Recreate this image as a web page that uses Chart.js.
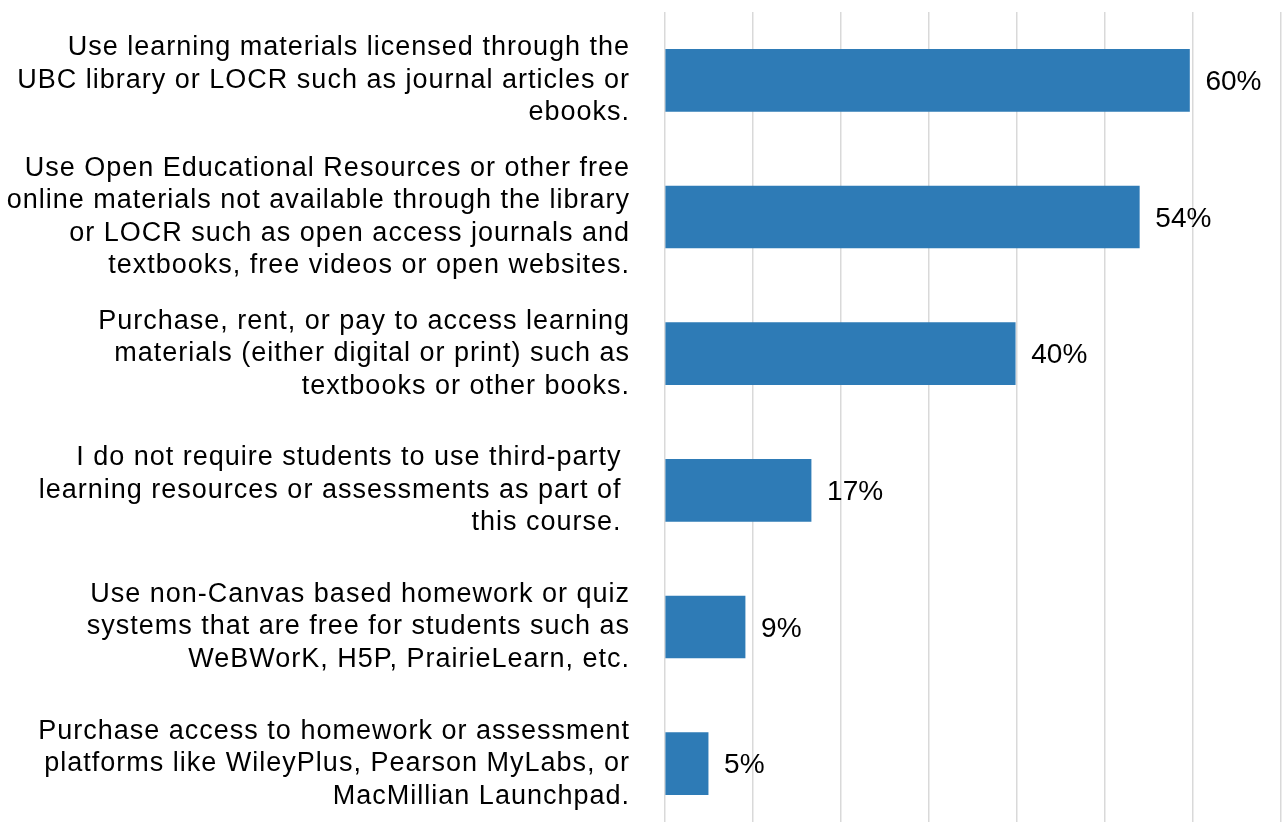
<!DOCTYPE html>
<html>
<head>
<meta charset="utf-8">
<script src="https://cdn.jsdelivr.net/npm/chart.js@4/dist/chart.umd.min.js"></script>
<style>
  html, body { margin: 0; padding: 0; background: #fff; overflow: hidden; }
  #wrap { width: 1284px; height: 832px; position: relative; }
</style>
</head>
<body>
<div id="wrap"><canvas id="chart"></canvas></div>
<script>
// chart data
const categories = [
    ['Use learning materials licensed through the', 'UBC library or LOCR such as journal articles or', 'ebooks.'],
    ['Use Open Educational Resources or other free', 'online materials not available through the library', 'or LOCR such as open access journals and', 'textbooks, free videos or open websites.'],
    ['Purchase, rent, or pay to access learning', 'materials (either digital or print) such as', 'textbooks or other books.'],
    ['I do not require students to use third-party ', 'learning resources or assessments as part of ', 'this course. '],
    ['Use non-Canvas based homework or quiz', 'systems that are free for students such as', 'WeBWorK, H5P, PrairieLearn, etc.'],
    ['Purchase access to homework or assessment', 'platforms like WileyPlus, Pearson MyLabs, or', 'MacMillian Launchpad.']
];
const shares = [59.6, 53.9, 39.8, 16.6, 9.1, 4.9];
const shareLabels = ['60%', '54%', '40%', '17%', '9%', '5%'];

const FONT = '"Liberation Sans", Arial, sans-serif';

// the category text in the original is spaced out a little
const labelSpacing = {
    id: 'labelSpacing',
    beforeDraw(chart) {
        chart.ctx.letterSpacing = '1px';
    }
};

// Draw the percentage next to each bar
const valueLabels = {
    id: 'valueLabels',
    afterDatasetsDraw(chart) {
        const ctx = chart.ctx;
        const meta = chart.getDatasetMeta(0);
        ctx.save();
        ctx.letterSpacing = '0px';
        ctx.font = '28px ' + FONT;
        ctx.fillStyle = '#000';
        ctx.textAlign = 'left';
        ctx.textBaseline = 'middle';
        meta.data.forEach((bar, i) => {
            ctx.fillText(shareLabels[i], bar.x + 16, bar.y + 2);
        });
        ctx.restore();
    }
};

new Chart(document.getElementById('chart'), {
    type: 'bar',
    data: {
        labels: categories,
        datasets: [{
            data: shares,
            backgroundColor: '#2e7bb6',
            borderWidth: 0,
            barThickness: 62
        }]
    },
    options: {
        indexAxis: 'y',
        responsive: true,
        maintainAspectRatio: false,
        animation: false,
        layout: { padding: { top: 12, right: 3, bottom: 0, left: 0 } },
        plugins: {
            legend: { display: false },
            tooltip: { enabled: false }
        },
        scales: {
            x: {
                min: 0,
                max: 70,
                ticks: { display: false, stepSize: 10 },
                grid: { color: '#d9d9d9', lineWidth: 1.5, drawTicks: false },
                border: { display: false },
                afterFit(scale) {
                    scale.height = 0;
                    scale.paddingLeft = 0;
                    scale.paddingRight = 0;
                }
            },
            y: {
                ticks: {
                    color: '#000',
                    padding: 35,
                    font: { family: FONT, size: 27, lineHeight: 1.2 }
                },
                grid: { display: false, drawTicks: false },
                border: { display: false },
                afterFit(scale) {
                    scale.width = 665;
                    scale.paddingTop = 0;
                    scale.paddingBottom = 0;
                }
            }
        }
    },
    plugins: [labelSpacing, valueLabels]
});
</script>
</body>
</html>
